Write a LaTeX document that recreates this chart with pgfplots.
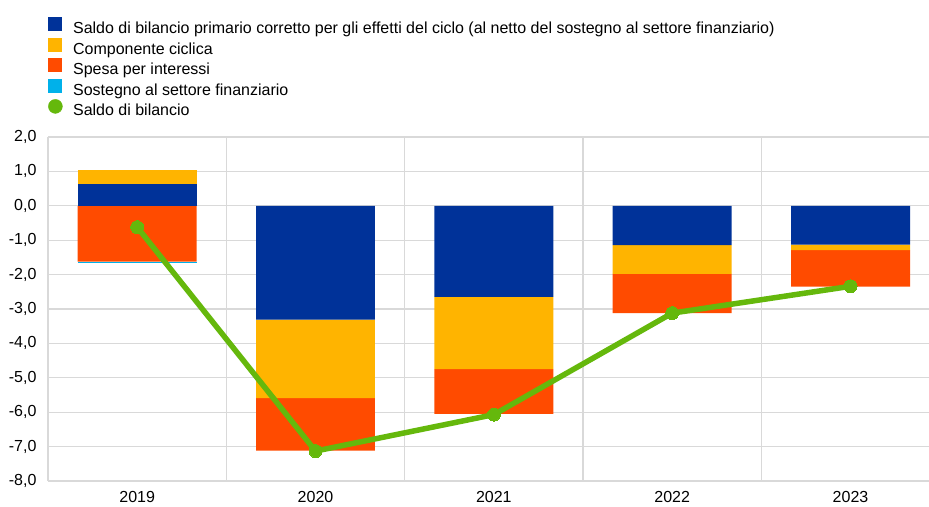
\documentclass[border=0pt]{standalone}
\usepackage{pgfplots}
\pgfplotsset{compat=1.18}
\usepackage{fontspec}
\setmainfont{Liberation Sans}
\definecolor{ecbblue}{HTML}{003299}
\definecolor{ecbyellow}{HTML}{FFB400}
\definecolor{ecbred}{HTML}{FF4B00}
\definecolor{ecbcyan}{HTML}{00B1EA}
\definecolor{ecbgreen}{HTML}{65B80C}
\definecolor{gridgray}{HTML}{D9D9D9}
\pgfplotsset{frame/.style={
  at={(48pt,25pt)}, anchor=south west,
  scale only axis, width=881pt, height=344pt,
  xmin=-0.5, xmax=4.44, ymin=-8, ymax=2}}
\begin{document}
\fontsize{16pt}{19pt}\selectfont
\begin{tikzpicture}
\useasboundingbox (0,0) rectangle (929pt,506pt);
\begin{axis}[
  frame, ybar stacked, bar width=0.667,
  xtick={0,1,2,3,4},
  xticklabels={2019,2020,2021,2022,2023},
  extra x ticks={0.5,1.5,2.5,3.5},
  extra x tick labels={},
  extra x tick style={grid=major, major grid style={gridgray, line width=1.2pt}},
  ytick={-8,-7,...,2},
  ymajorgrids, major grid style={gridgray, line width=1.2pt},
  major tick length=0pt,
  axis lines=left,
  axis line style={-, draw=gridgray, line width=1.2pt},
  tick label style={font=\fontsize{16pt}{19pt}\selectfont, black},
  /pgf/number format/.cd, assume math mode=true, use comma, fixed, fixed zerofill, precision=1,
  /pgfplots/.cd,
  yticklabel style={xshift=-6pt},
  xticklabel style={yshift=-5pt},
  clip=false,
  legend cell align=left,
  legend style={at={(0,1)}, anchor=north west, yshift=120pt, draw=none, fill=none,
    inner sep=0pt, row sep=1.5pt,
    font=\fontsize{16pt}{19pt}\selectfont,
    nodes={inner sep=0pt},
    /tikz/every odd column/.append style={column sep=10.5pt}},
  legend image code/.code={\fill[#1] (0pt,-2pt) rectangle (14pt,12pt);},
]
% negative parts
\addplot[fill=ecbblue, draw=none] coordinates {(0,0) (1,-3.31) (2,-2.65) (3,-1.14) (4,-1.13)};
\addlegendentry{Saldo di bilancio primario corretto per gli effetti del ciclo (al netto del sostegno al settore finanziario)}
\addplot[fill=ecbyellow, draw=none] coordinates {(0,0) (1,-2.28) (2,-2.10) (3,-0.84) (4,-0.16)};
\addlegendentry{Componente ciclica}
\addplot[fill=ecbred, draw=none] coordinates {(0,-1.62) (1,-1.53) (2,-1.30) (3,-1.14) (4,-1.06)};
\addlegendentry{Spesa per interessi}
\addplot[fill=ecbcyan, draw=none] coordinates {(0,-0.03) (1,0) (2,0) (3,0) (4,0)};
\addlegendentry{Sostegno al settore finanziario}
\addlegendimage{legend image code/.code={\fill[ecbgreen] (7pt,5pt) circle (7pt);}}
\addlegendentry{Saldo di bilancio}
\end{axis}
\begin{axis}[frame, ybar stacked, bar width=0.667, hide axis]
% positive parts
\addplot[fill=ecbblue, draw=none] coordinates {(0,0.63) (1,0) (2,0) (3,0) (4,0)};
\addplot[fill=ecbyellow, draw=none] coordinates {(0,0.40) (1,0) (2,0) (3,0) (4,0)};
\end{axis}
\begin{axis}[frame, hide axis, clip=false]
% balance
\addplot[sharp plot, ecbgreen, line width=5.5pt, mark=*, mark size=6.5pt,
  mark options={fill=ecbgreen, draw=ecbgreen, line width=0pt}]
  coordinates {(0,-0.62) (1,-7.13) (2,-6.07) (3,-3.12) (4,-2.34)};
\end{axis}
\end{tikzpicture}
\end{document}
